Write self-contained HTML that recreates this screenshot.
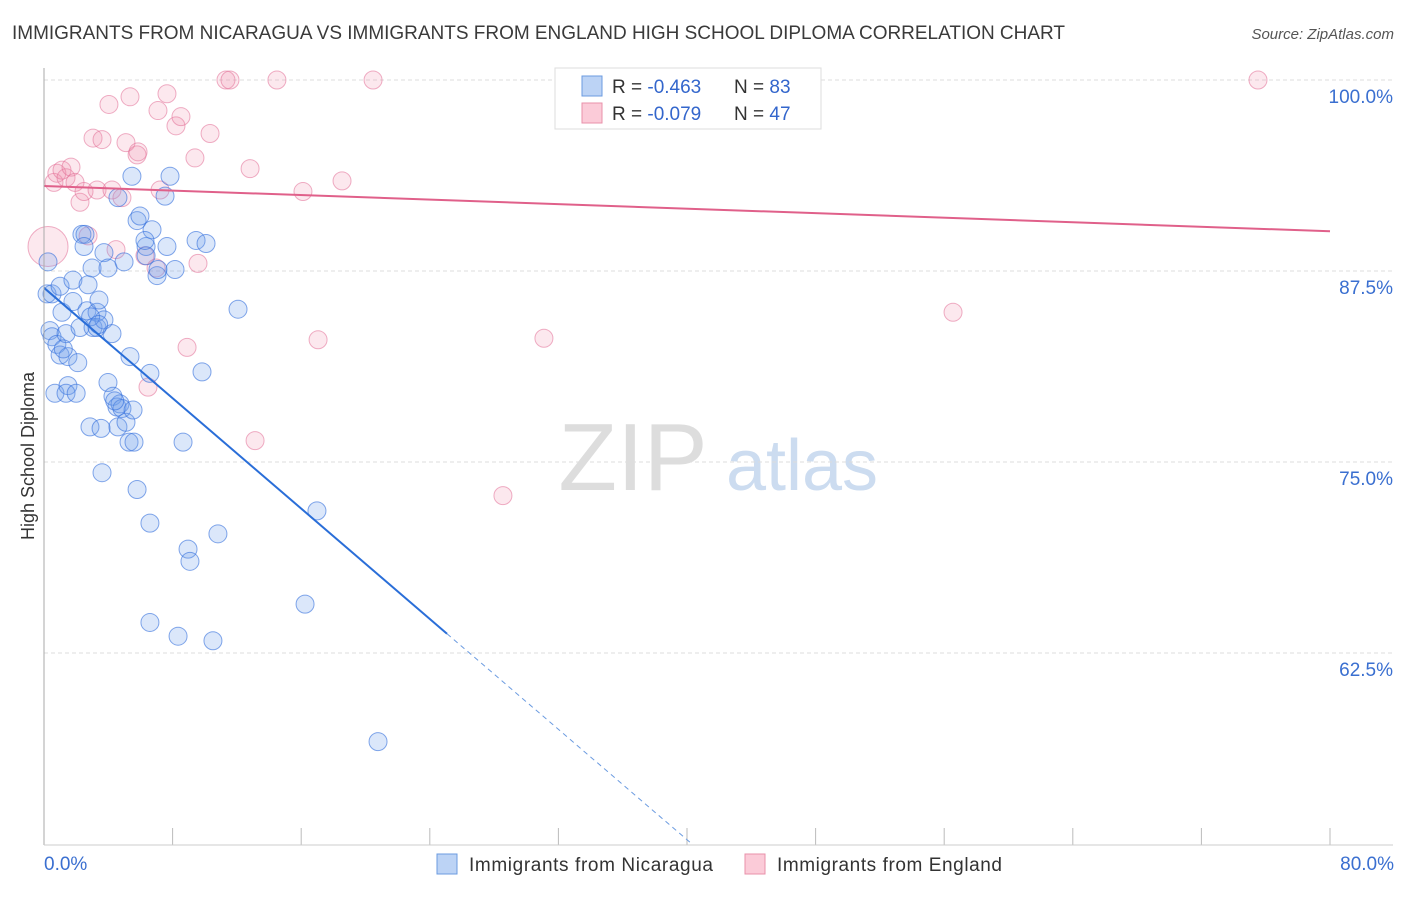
<!DOCTYPE html>
<html><head><meta charset="utf-8"><style>
body{margin:0;background:#fff;font-family:"Liberation Sans",sans-serif;}
svg text{font-family:"Liberation Sans",sans-serif;}
</style></head><body>
<svg id="c" width="1406" height="892">
<text x="12" y="39" font-size="19" fill="#3a3a3a" textLength="1053">IMMIGRANTS FROM NICARAGUA VS IMMIGRANTS FROM ENGLAND HIGH SCHOOL DIPLOMA CORRELATION CHART</text>
<text x="1394" y="39" font-size="15" fill="#555" font-style="italic" text-anchor="end">Source: ZipAtlas.com</text>
<text transform="translate(34,456) rotate(-90)" font-size="18" fill="#333" text-anchor="middle">High School Diploma</text>
<g><text x="633" y="490" font-size="96" fill="#ddd" font-family="Liberation Serif" text-anchor="middle">ZIP</text><text x="802" y="490" font-size="72" fill="#ccdcf0" text-anchor="middle">atlas</text></g>
<g id="grid"></g><g id="marks"></g><g id="lines"></g>
<line x1="44" y1="68" x2="44" y2="845" stroke="#aaa"/>
<line x1="44" y1="845" x2="1393" y2="845" stroke="#ccc"/>
<text x="44" y="870" font-size="19" fill="#3a6fd0">0.0%</text>
<text x="1394" y="870" font-size="19" fill="#3a6fd0" text-anchor="end">80.0%</text>
<g>
<rect x="555" y="68" width="266" height="61" fill="#fff" stroke="#ddd"/>
<rect x="582" y="76" width="20" height="20" fill="#bcd3f5" stroke="#6b9be0"/>
<rect x="582" y="103" width="20" height="20" fill="#fbcbd8" stroke="#e890aa"/>
<text x="612" y="93" font-size="19" fill="#333">R = <tspan fill="#3366cc">-0.463</tspan><tspan x="734">N = </tspan><tspan fill="#3366cc">83</tspan></text>
<text x="612" y="120" font-size="19" fill="#333">R = <tspan fill="#3366cc">-0.079</tspan><tspan x="734">N = </tspan><tspan fill="#3366cc">47</tspan></text>
</g>
<g><rect x="437" y="854" width="20" height="20" fill="#bcd3f5" stroke="#6b9be0"/><text x="469" y="871" font-size="19" fill="#333" textLength="244">Immigrants from Nicaragua</text></g>
<g><rect x="745" y="854" width="20" height="20" fill="#fbcbd8" stroke="#e890aa"/><text x="777" y="871" font-size="19" fill="#333" textLength="225">Immigrants from England</text></g>
</svg>
<script>
const yTicks=[62.5,75,87.5,100];
const xTicks=[8,16,24,32,40,48,56,64,72,80];
const blueX=[0.25,0.19,0.5,1.0,0.37,0.5,0.8,1.0,0.68,1.12,1.37,1.49,1.49,1.37,1.8,1.8,2.0,2.1,2.24,2.36,2.55,2.49,2.67,2.74,2.86,2.99,3.05,3.3,3.3,3.42,3.55,3.61,3.73,3.73,3.98,3.98,4.23,4.29,4.54,4.6,4.73,4.85,4.98,5.1,5.29,5.35,5.54,5.6,5.79,5.47,5.79,5.97,6.35,6.35,6.59,6.59,6.59,6.72,7.03,7.09,7.53,7.65,7.84,8.15,8.34,8.65,8.96,9.08,9.46,9.83,10.08,10.51,10.82,12.07,16.24,16.98,20.78,6.28,4.6,2.9,3.4,4.4,1.2];
const blueY=[88.1,86.0,86.0,86.5,83.6,83.2,82.7,82.0,79.5,84.8,83.4,81.9,80.0,79.5,85.5,86.9,79.5,81.5,83.8,89.9,89.9,89.1,84.9,86.6,77.3,87.7,83.8,84.8,83.8,85.6,77.2,74.3,84.3,88.7,87.7,80.2,83.4,79.3,78.6,77.3,78.8,78.5,88.1,77.6,76.3,81.9,78.4,76.3,73.2,93.7,90.8,91.1,89.1,88.5,80.8,71.0,64.5,90.2,87.2,87.6,92.4,89.1,93.7,87.6,63.6,76.3,69.3,68.5,89.5,80.9,89.3,63.3,70.3,85.0,65.7,71.8,56.7,89.5,92.3,84.5,84.0,79.0,82.4];
const pinkX=[0.62,0.8,1.12,1.37,1.68,1.93,2.24,2.49,2.74,3.05,3.3,3.61,4.04,4.23,4.48,4.85,5.1,5.35,5.79,5.85,6.28,6.47,6.97,7.09,7.22,7.65,8.21,8.52,8.9,9.39,9.58,10.33,11.32,11.57,12.82,13.13,14.49,16.11,17.05,18.54,20.47,28.55,31.1,32.97,56.55,75.52];
const pinkY=[93.3,93.9,94.1,93.6,94.3,93.3,92.0,92.7,89.8,96.2,92.8,96.1,98.4,92.8,88.9,92.3,95.9,98.9,95.1,95.3,88.5,79.9,87.7,98.0,92.8,99.1,97.0,97.6,82.5,94.9,88.0,96.5,100,100,94.2,76.4,100,92.7,83.0,93.4,100,72.8,83.1,100,84.8,100];
const bigPink=[0.25,89.1];
const blueTrend=[86.4,-0.903], pinkTrend=[93.06,-0.037];
const X=v=>44+v*16.075, Y=v=>844-(v-50)*15.28;
const NS='http://www.w3.org/2000/svg';
function mk(t,a,p){const e=document.createElementNS(NS,t);for(const k in a)e.setAttribute(k,a[k]);p.appendChild(e);return e;}
const grid=document.getElementById('grid'),marks=document.getElementById('marks'),lines=document.getElementById('lines');
yTicks.forEach(v=>{
 const l=mk('line',{x1:44,x2:1393,y1:Y(v),y2:Y(v),stroke:'#ddd','stroke-dasharray':'4,3'},grid);
 
 
 const t=mk('text',{x:1393,y:Y(v)+23,'font-size':19,fill:'#3a6fd0','text-anchor':'end'},grid);
 t.textContent=v.toFixed(1)+'%';
 
 
});
xTicks.forEach(v=>{
 const l=mk('line',{x1:X(v),x2:X(v),y1:828,y2:845,stroke:'#bbb'},grid);
 
 
});
const pf='rgba(240,140,170,0.2)', ps='rgba(225,110,150,0.55)';
const bf='rgba(110,160,235,0.25)', bs='rgba(50,110,220,0.6)';
const big=mk('circle',{cx:X(bigPink[0]),cy:Y(bigPink[1]),r:20,fill:pf,stroke:ps},marks);


pinkX.forEach((v,i)=>{
 const c=mk('circle',{cx:X(v),cy:Y(pinkY[i]),r:9,fill:pf,stroke:ps},marks);
 
 
});
blueX.forEach((v,i)=>{
 const c=mk('circle',{cx:X(v),cy:Y(blueY[i]),r:9,fill:bf,stroke:bs},marks);
 
 
});
const pl=mk('line',{x1:X(0),y1:Y(pinkTrend[0]),x2:X(80),y2:Y(pinkTrend[0]+pinkTrend[1]*80),stroke:'#e0608a','stroke-width':2},lines);


const bEnd=25.07, bZero=(50-blueTrend[0])/blueTrend[1];
const bl=mk('line',{x1:X(0),y1:Y(blueTrend[0]),x2:X(bEnd),y2:Y(blueTrend[0]+blueTrend[1]*bEnd),stroke:'#2a6ed8','stroke-width':2},lines);


const bd=mk('line',{x1:X(bEnd),y1:Y(blueTrend[0]+blueTrend[1]*bEnd),x2:X(bZero),y2:Y(50),stroke:'#6b9be0','stroke-width':1,'stroke-dasharray':'5,4'},lines);


</script>
</body></html>
